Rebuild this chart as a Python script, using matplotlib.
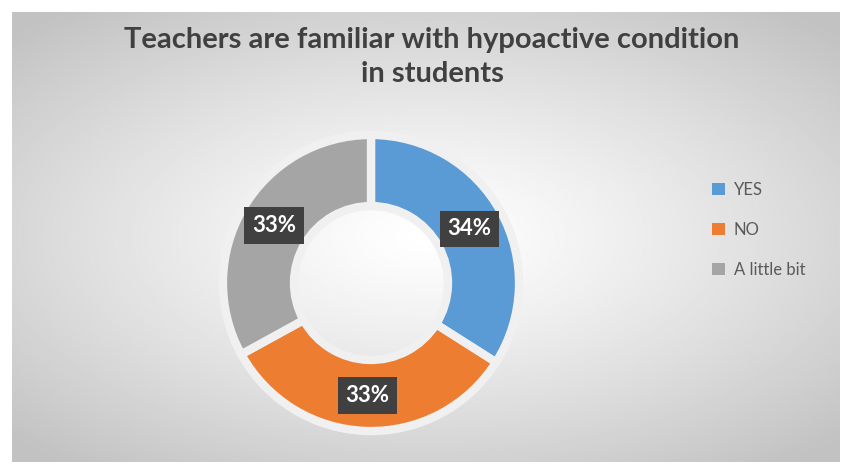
import numpy as np
import matplotlib.pyplot as plt
from matplotlib.patches import Patch

labels = ['YES', 'NO', 'A little bit']
values = [34, 33, 33]
colors = ['#5b9bd5', '#ed7d31', '#a5a5a5']
title = 'Teachers are familiar with hypoactive condition\nin students'

plt.rcParams['font.family'] = ['Lato', 'DejaVu Sans']

W, H = 843, 466
fig = plt.figure(figsize=(W / 100, H / 100), dpi=100)
fig.patch.set_facecolor('white')

# background panel with radial gradient
bg = fig.add_axes([12 / W, 4 / H, 828 / W, 450 / H])
yy, xx = np.mgrid[-1:1:300j, -1:1:600j]
r = np.sqrt(xx ** 2 + (yy * 1.1) ** 2) / np.sqrt(2)
shade = 1.0 - 0.24 * np.clip(r, 0, 1) ** 1.2
bg.imshow(shade, cmap='gray', vmin=0, vmax=1, aspect='auto', extent=[0, 1, 0, 1])
bg.set_axis_off()

# donut
cx, cy, rad = 371, 283, 151
ax = fig.add_axes([(cx - rad) / W, (H - cy - rad) / H, 2 * rad / W, 2 * rad / H])
wedges, texts, autotexts = ax.pie(
    values, colors=colors, startangle=90, counterclock=False, radius=1,
    autopct='%1.0f%%', pctdistance=0.76,
    wedgeprops=dict(width=0.48, edgecolor='#f0f0f0', linewidth=6),
    textprops=dict(color='white', fontsize=16, fontweight='bold'))
for t in autotexts:
    t.set_bbox(dict(boxstyle='square,pad=0.35', fc='#404040', ec='none'))
ax.set_xlim(-1.02, 1.02)
ax.set_ylim(-1.02, 1.02)
ax.set_axis_off()

fig.text(432 / W, 1 - 57 / H, title, ha='center', va='center', fontsize=21,
         fontweight='bold', color='#404040', linespacing=1.35)

handles = [Patch(facecolor=c, edgecolor='none') for c in colors]
fig.legend(handles, labels, loc='center left', bbox_to_anchor=(697 / W, 1 - 230 / H),
           frameon=False, fontsize=12, labelcolor='#595959', handlelength=0.75,
           handleheight=0.75, labelspacing=1.45, handletextpad=0.55)

fig.savefig('out.png', dpi=100)
